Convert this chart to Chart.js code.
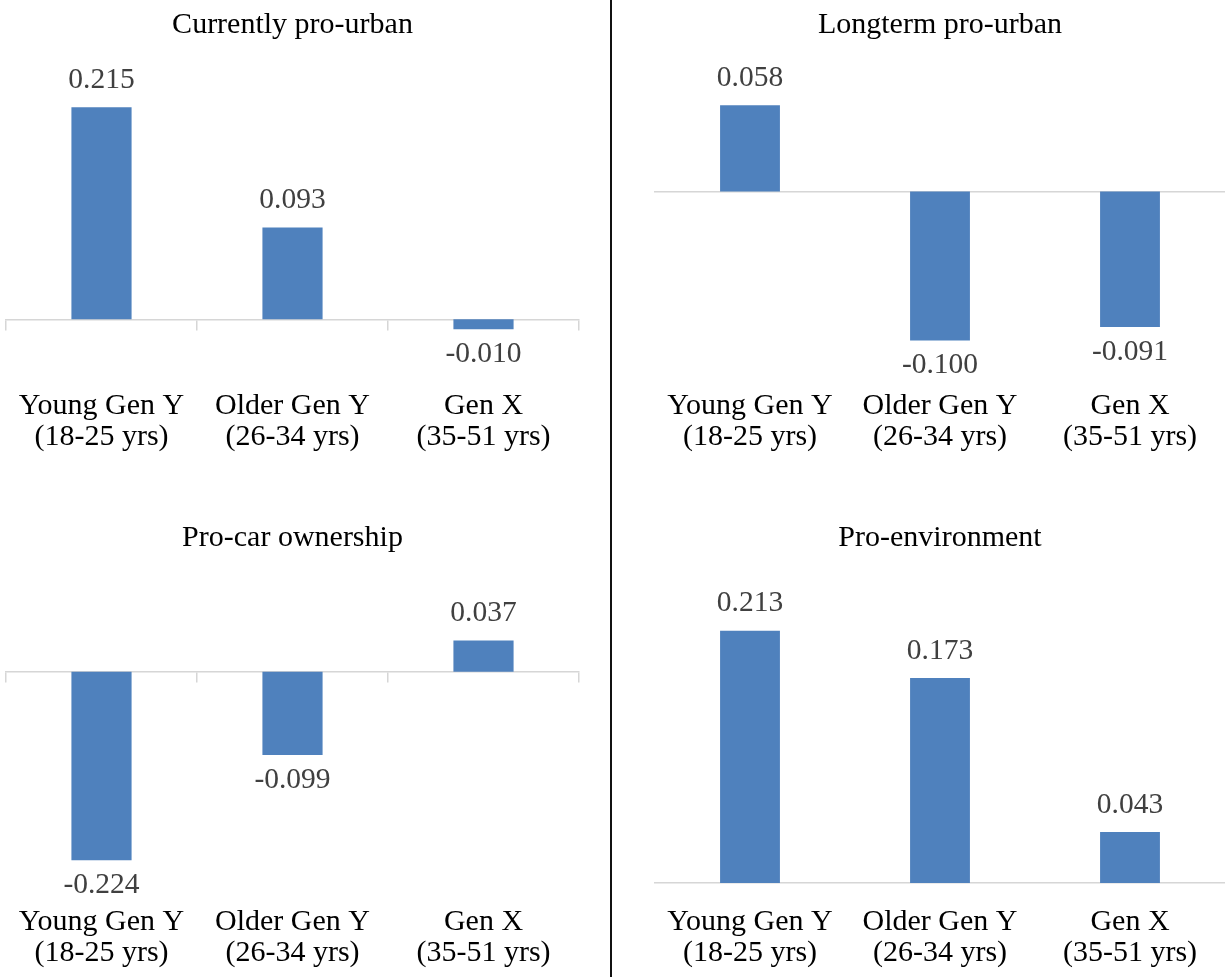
<!DOCTYPE html>
<html>
<head>
<meta charset="UTF-8" />
<title>Attitudes by generation</title>
<script src="https://cdn.jsdelivr.net/npm/chart.js"></script>
<style>
  body { margin: 0; background: #fff; }
  #page { position: relative; width: 1225px; height: 977px; overflow: hidden; background: #fff; }
  #page canvas { position: absolute; }
  #divider { position: absolute; left: 610px; top: 0; width: 1.5px; height: 977px; background: #111; }
</style>
</head>
<body>
<div id="page">
  <canvas id="c1" width="611" height="488" style="left:0;top:0"></canvas>
  <canvas id="c2" width="614" height="488" style="left:611px;top:0"></canvas>
  <canvas id="c3" width="611" height="489" style="left:0;top:488px"></canvas>
  <canvas id="c4" width="614" height="489" style="left:611px;top:488px"></canvas>
  <div id="divider"></div>
</div>

<script>
// generation groups (two-line category labels)
const groups = [
  ['Young Gen Y', '(18-25 yrs)'],
  ['Older Gen Y', '(26-34 yrs)'],
  ['Gen X', '(35-51 yrs)']
];

// mean factor scores per group
const currentlyProUrban = [0.215, 0.093, -0.010];
const longtermProUrban = [0.058, -0.100, -0.091];
const proCarOwnership = [-0.224, -0.099, 0.037];
const proEnvironment = [0.213, 0.173, 0.043];

const serif = '"Liberation Serif", "Times New Roman", serif';
const barColor = '#4f81bd';
const axisColor = '#d6d6d6';

// value printed at the outer end of each bar
const valueLabels = {
  id: 'valueLabels',
  afterDatasetsDraw(chart) {
    const ctx = chart.ctx;
    const meta = chart.getDatasetMeta(0);
    const values = chart.data.datasets[0].data;
    ctx.save();
    ctx.font = '29.5px ' + serif;
    ctx.fillStyle = '#404040';
    ctx.textAlign = 'center';
    ctx.textBaseline = 'middle';
    meta.data.forEach((bar, i) => {
      const v = values[i];
      const y = v >= 0 ? bar.y - 27 : bar.y + 25;
      ctx.fillText(v.toFixed(3), bar.x, y);
    });
    ctx.restore();
  }
};

const panels = [
  { id: 'c1', title: 'Currently pro-urban', values: currentlyProUrban,
    min: -0.0722, max: 0.2630, ticks: true, titlePad: { top: 7, bottom: 17 },
    pad: { left: 6, right: 32, top: 0, bottom: 35.5 } },
  { id: 'c2', title: 'Longterm pro-urban', values: longtermProUrban,
    min: -0.1336, max: 0.0883, ticks: false, titlePad: { top: 7, bottom: 17 },
    pad: { left: 44, right: 0, top: 0, bottom: 35.5 } },
  { id: 'c3', title: 'Pro-car ownership', values: proCarOwnership,
    min: -0.2789, max: 0.1327, ticks: true, titlePad: { top: 32, bottom: 4 },
    pad: { left: 6, right: 32, top: 0, bottom: 8.5 } },
  { id: 'c4', title: 'Pro-environment', values: proEnvironment,
    min: -0.0198, max: 0.2726, ticks: false, titlePad: { top: 32, bottom: 4 },
    pad: { left: 44, right: 0, top: 0, bottom: 8.5 } }
];

panels.forEach(p => {
  new Chart(document.getElementById(p.id), {
    type: 'bar',
    data: {
      labels: groups,
      datasets: [{
        data: p.values,
        backgroundColor: barColor,
        borderWidth: 0,
        barPercentage: 0.315,
        categoryPercentage: 1
      }]
    },
    options: {
      responsive: false,
      animation: false,
      layout: { padding: p.pad },
      plugins: {
        legend: { display: false },
        tooltip: { enabled: false },
        title: {
          display: true,
          text: p.title,
          color: '#000',
          font: { family: serif, size: 30, weight: 'normal' },
          padding: p.titlePad
        }
      },
      scales: {
        // zero line with boundary tick marks
        x: {
          position: { y: 0 },
          offset: true,
          border: { display: true, color: axisColor, width: 1.5 },
          grid: {
            display: p.ticks,
            offset: true,
            drawOnChartArea: false,
            drawTicks: p.ticks,
            tickLength: 10,
            color: axisColor,
            lineWidth: 1.5
          },
          ticks: { display: false }
        },
        // category names along the bottom
        groupNames: {
          type: 'category',
          axis: 'x',
          position: 'bottom',
          offset: true,
          border: { display: false },
          grid: { display: false, drawTicks: false },
          ticks: {
            color: '#000',
            padding: 0,
            maxRotation: 0,
            autoSkip: false,
            font: { family: serif, size: 30, lineHeight: 31 / 30 }
          }
        },
        y: {
          display: false,
          min: p.min,
          max: p.max
        }
      }
    },
    plugins: [valueLabels]
  });
});
</script>
</body>
</html>
